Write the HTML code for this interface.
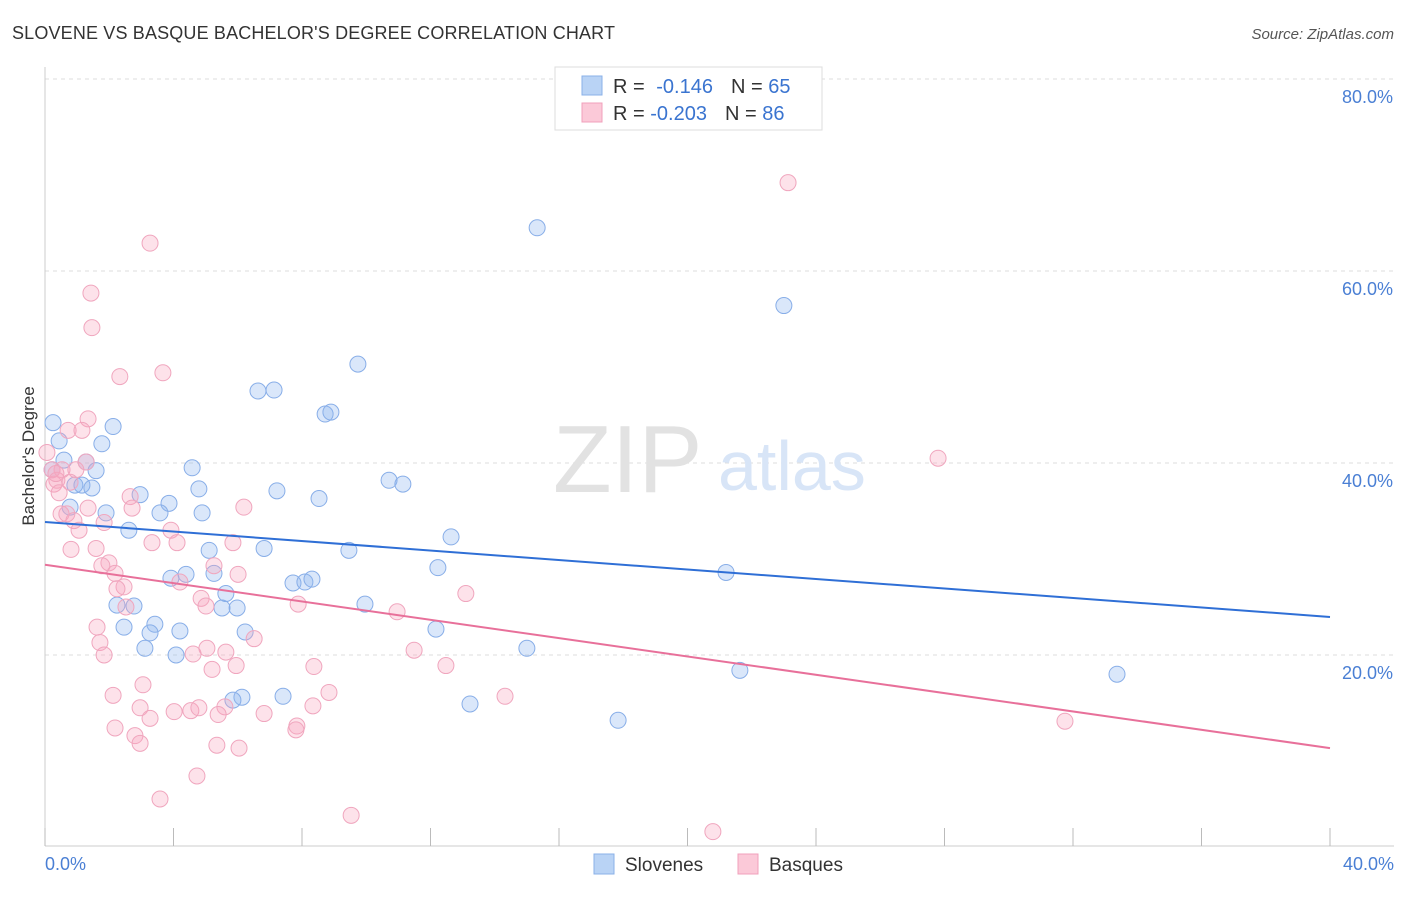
<!DOCTYPE html>
<html><head><meta charset="utf-8"><style>
body{margin:0;background:#fff;font-family:"Liberation Sans",sans-serif;}
svg text{font-family:"Liberation Sans",sans-serif;}
</style></head><body>
<svg id="chart" width="1406" height="892" viewBox="0 0 1406 892" xmlns="http://www.w3.org/2000/svg">
<text x="12" y="39" font-size="18" fill="#333" textLength="603">SLOVENE VS BASQUE BACHELOR'S DEGREE CORRELATION CHART</text>
<text x="1394" y="39" font-size="15" fill="#555" font-style="italic" text-anchor="end">Source: ZipAtlas.com</text>
<g id="grid"></g>
<g>
<text x="553" y="492" font-size="96" fill="#e2e2e2" font-family="Liberation Serif">ZIP</text>
<text x="718" y="490" font-size="70" fill="#d8e5f7">atlas</text>
</g>
<line x1="45" y1="67" x2="45" y2="846" stroke="#ccc"/>
<line x1="45" y1="846" x2="1394" y2="846" stroke="#ccc"/>
<g id="ticks"></g>
<g id="pts"></g>
<g id="lines"></g>
<text transform="translate(34,456) rotate(-90)" font-size="17" fill="#333" text-anchor="middle">Bachelor's Degree</text>
<text x="45" y="870" font-size="18" fill="#4a7fd4">0.0%</text>
<text x="1394" y="870" font-size="18" fill="#4a7fd4" text-anchor="end">40.0%</text>
<g>
<rect x="555" y="67" width="267" height="63" fill="#fff" stroke="#ddd"/>
<rect x="582" y="76" width="20" height="19" fill="#b9d3f5" stroke="#8ab0e8"/>
<rect x="582" y="103" width="20" height="19" fill="#fbc9d8" stroke="#f0a0bb"/>
<text x="613" y="93" font-size="20" fill="#333">R = <tspan fill="#3a74d0" dx="6">-0.146</tspan><tspan dx="18">N = </tspan><tspan fill="#3a74d0">65</tspan></text>
<text x="613" y="120" font-size="20" fill="#333">R = <tspan fill="#3a74d0">-0.203</tspan><tspan dx="18">N = </tspan><tspan fill="#3a74d0">86</tspan></text>
</g>
<g>
<rect x="594" y="854" width="20" height="20" fill="#b9d3f5" stroke="#8ab0e8"/>
<text x="625" y="871" font-size="19" fill="#333">Slovenes</text>
<rect x="738" y="854" width="20" height="20" fill="#fbc9d8" stroke="#f0a0bb"/>
<text x="769" y="871" font-size="19" fill="#333">Basques</text>
</g>
</svg>
<script>
const yTicks=[20,40,60,80];
const yTickLabels=["20.0%","40.0%","60.0%","80.0%"];
const xTicks=[0,4,8,12,16,20,24,28,32,36,40];
const sloveneX=[15.32,23.0,9.74,6.63,7.13,8.72,8.90,0.25,2.12,0.44,1.77,0.59,1.28,1.59,0.93,1.15,1.46,4.58,2.96,3.86,4.79,7.22,8.53,10.71,11.14,1.90,3.58,4.89,2.61,5.11,6.82,9.46,12.64,12.23,21.2,3.92,4.39,5.63,5.26,7.72,8.09,8.31,2.24,2.77,5.51,5.98,9.96,2.46,3.42,3.27,4.20,12.17,6.23,3.11,4.08,15.0,21.63,33.37,7.41,6.13,5.85,13.23,17.84,0.78,0.22];
const sloveneY=[64.5,56.4,50.3,47.5,47.6,45.1,45.3,44.2,43.8,42.3,42.0,40.3,40.1,39.2,37.7,37.7,37.4,39.5,36.7,35.8,37.3,37.1,36.3,38.2,37.8,34.8,34.8,34.8,33.0,30.9,31.1,30.9,32.3,29.1,28.6,28.0,28.4,26.4,28.5,27.5,27.6,27.9,25.2,25.1,24.9,24.9,25.3,22.9,23.2,22.3,22.5,22.7,22.4,20.7,20.0,20.7,18.4,18.0,15.7,15.6,15.3,14.9,13.2,35.4,39.3];
const basqueX=[23.13,3.27,1.43,1.46,3.67,2.33,27.8,1.34,0.72,1.15,0.06,1.28,0.22,0.53,0.96,0.37,0.78,0.28,0.44,2.65,1.34,2.71,6.19,0.50,0.68,0.90,1.06,3.92,1.84,3.33,4.11,5.85,0.81,1.59,1.99,1.77,5.26,2.18,6.01,4.20,2.46,2.24,13.1,4.86,5.01,7.88,10.96,2.52,1.62,1.71,6.51,5.04,4.61,5.63,11.49,1.84,5.95,5.20,8.37,12.48,2.12,3.05,8.84,14.32,2.96,4.02,4.54,4.79,5.60,8.34,3.27,5.39,6.82,2.18,7.84,7.81,31.75,2.80,2.96,5.35,6.04,4.73,3.58,9.53,20.79,0.34];
const basqueY=[69.2,62.9,57.7,54.1,49.4,49.0,40.5,44.6,43.4,43.4,41.1,40.1,39.3,39.3,39.3,38.2,38.0,37.8,36.9,36.5,35.3,35.3,35.4,34.7,34.7,34.0,33.0,33.0,33.8,31.7,31.7,31.7,31.0,31.1,29.6,29.3,29.3,28.5,28.4,27.6,27.1,26.9,26.4,25.9,25.1,25.3,24.5,25.0,22.9,21.3,21.7,20.7,20.1,20.3,20.5,20.0,18.9,18.5,18.8,18.9,15.8,16.9,16.1,15.7,14.5,14.1,14.2,14.5,14.6,14.7,13.4,13.8,13.9,12.4,12.6,12.2,13.1,11.6,10.8,10.6,10.3,7.4,5.0,3.3,1.6,38.9];
const sloveneTrend=[33.85,23.96];
const basqueTrend=[29.4,10.3];
const xMin=0,xMax=40,yMin=0,yMax=80;
const NS="http://www.w3.org/2000/svg";
function sx(v){return 45+(v-xMin)/(xMax-xMin)*1285;}
function sy(v){return 847-(v-yMin)/(yMax-yMin)*768;}
function mk(tag,attrs,parent){const e=document.createElementNS(NS,tag);for(const k in attrs)e.setAttribute(k,attrs[k]);parent.appendChild(e);return e;}
const grid=document.getElementById('grid');
yTicks.forEach((t,i)=>{
  const l=mk('line',{x1:45,x2:1394,y1:sy(t),y2:sy(t),stroke:'#ddd','stroke-dasharray':'4,4'},grid);
  
  
  const tx=mk('text',{x:1393,y:sy(t)+24,'font-size':18,fill:'#4a7fd4','text-anchor':'end'},grid);
  tx.textContent=yTickLabels[i];
  
  
});
const ticks=document.getElementById('ticks');
xTicks.forEach(t=>{
  const l=mk('line',{x1:sx(t),x2:sx(t),y1:828,y2:846,stroke:'#bbb'},ticks);
  
  
});
const pts=document.getElementById('pts');
sloveneX.forEach((x,i)=>{
  const c=mk('circle',{cx:sx(x),cy:sy(sloveneY[i]),r:8,fill:'rgba(140,180,240,0.32)',stroke:'#88aee8','stroke-width':1},pts);
  
  
});
basqueX.forEach((x,i)=>{
  const c=mk('circle',{cx:sx(x),cy:sy(basqueY[i]),r:8,fill:'rgba(248,165,190,0.32)',stroke:'#f0a6be','stroke-width':1},pts);
  
  
});
const lines=document.getElementById('lines');
const l1=mk('line',{x1:sx(0),y1:sy(sloveneTrend[0]),x2:sx(40),y2:sy(sloveneTrend[1]),stroke:'#2f6fd6','stroke-width':2},lines);


const l2=mk('line',{x1:sx(0),y1:sy(basqueTrend[0]),x2:sx(40),y2:sy(basqueTrend[1]),stroke:'#e8709a','stroke-width':2},lines);


</script>
</body></html>
